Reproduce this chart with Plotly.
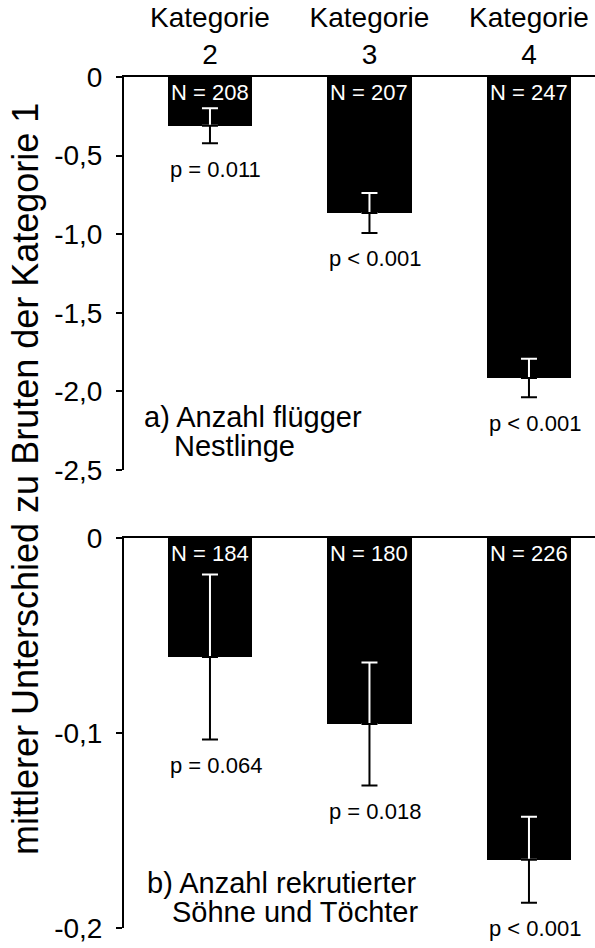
import plotly.graph_objects as go

categories = ["Kategorie<br>2", "Kategorie<br>3", "Kategorie<br>4"]

# Panel a) Anzahl flügger Nestlinge
a_mean = [-0.31, -0.865, -1.915]
a_err = [0.111, 0.127, 0.123]
a_n = ["N = 208", "N = 207", "N = 247"]
a_p = ["p = 0.011", "p < 0.001", "p < 0.001"]
a_tickvals = [0, -0.5, -1.0, -1.5, -2.0, -2.5]
a_ticktext = ["0", "-0,5", "-1,0", "-1,5", "-2,0", "-2,5"]

# Panel b) Anzahl rekrutierter Söhne und Töchter
b_mean = [-0.061, -0.0954, -0.165]
b_err = [0.0423, 0.0315, 0.022]
b_n = ["N = 184", "N = 180", "N = 226"]
b_p = ["p = 0.064", "p = 0.018", "p < 0.001"]
b_tickvals = [0, -0.1, -0.2]
b_ticktext = ["0", "-0,1", "-0,2"]

ytitle = "mittlerer Unterschied zu Bruten der Kategorie 1"
label_a = ["a) Anzahl flügger", "Nestlinge"]
label_b = ["b) Anzahl rekrutierter", "Söhne und Töchter"]

FONT = "Liberation Sans, Arial, sans-serif"
W, H = 595, 948
ML, MR, MT, MB = 124, 0, 77, 20
PW = W - ML - MR
PH = H - MT - MB

def py(pix):
    return (H - MB - pix) / PH

def px(pix):
    return (pix - ML) / PW

fig = go.Figure()

zeros = [0, 0, 0]
for means, errs, xa, ya in [(a_mean, a_err, "x", "y"), (b_mean, b_err, "x2", "y2")]:
    fig.add_trace(go.Bar(x=categories, y=means, width=0.527, xaxis=xa, yaxis=ya,
                         marker=dict(color="black", line=dict(width=0)), showlegend=False))
    # upper part of error bar (inside the bar) in white
    fig.add_trace(go.Scatter(x=categories, y=means, mode="markers", xaxis=xa, yaxis=ya,
                             marker=dict(size=1, color="rgba(0,0,0,0)"), showlegend=False,
                             error_y=dict(type="data", symmetric=False, array=errs, arrayminus=zeros,
                                          color="white", thickness=2, width=8)))
    # lower part of error bar (outside the bar) in black
    fig.add_trace(go.Scatter(x=categories, y=means, mode="markers", xaxis=xa, yaxis=ya,
                             marker=dict(size=1, color="rgba(0,0,0,0)"), showlegend=False,
                             error_y=dict(type="data", symmetric=False, array=zeros, arrayminus=errs,
                                          color="black", thickness=2, width=8)))

annotations = []
for means, errs, ns, ps, xa, ya in [(a_mean, a_err, a_n, a_p, "x", "y"), (b_mean, b_err, b_n, b_p, "x2", "y2")]:
    for c, m, e, n, p in zip(categories, means, errs, ns, ps):
        annotations.append(dict(x=c, y=0, xref=xa, yref=ya, text=n, showarrow=False,
                                yanchor="middle", yshift=-15, font=dict(size=22, color="white", family=FONT)))
        annotations.append(dict(x=c, y=m - e, xref=xa, yref=ya, text=p, showarrow=False,
                                yanchor="middle", yshift=-26, xshift=6,
                                font=dict(size=22, color="black", family=FONT)))

annotations.append(dict(x=px(25), y=py(479), xref="paper", yref="paper", text=ytitle, textangle=-90,
                        showarrow=False, xanchor="center", yanchor="middle",
                        font=dict(size=36, color="black", family=FONT)))
for txt, lx, ly in [(label_a[0], 142, 417), (label_a[1], 172, 446),
                    (label_b[0], 145, 883), (label_b[1], 170, 912)]:
    annotations.append(dict(x=px(lx), y=py(ly), xref="paper", yref="paper", text=txt, showarrow=False,
                            xanchor="left", yanchor="middle", font=dict(size=29, color="black", family=FONT)))

xcommon = dict(range=[-0.539, 2.414], side="top", showline=True, linecolor="black", linewidth=2,
               ticks="", showgrid=False, zeroline=False, type="category", automargin=False)
ycommon = dict(showline=True, linecolor="black", linewidth=2, ticks="outside", ticklen=6, tickwidth=2,
               tickcolor="black", showgrid=False, zeroline=False, tickfont=dict(size=28, color="black", family=FONT),
               ticklabelstandoff=8, automargin=False)

top_bottom = py(470)
bot_top = py(538)

fig.update_layout(
    width=W, height=H,
    margin=dict(l=ML, r=MR, t=MT, b=MB, autoexpand=False),
    paper_bgcolor="white", plot_bgcolor="white",
    font=dict(family=FONT, color="black"),
    bargap=0,
    hovermode=False,
    xaxis=dict(**xcommon, anchor="y", domain=[0, 1], tickfont=dict(size=28, color="black", family=FONT),
               ticklabelstandoff=0),
    yaxis=dict(**ycommon, domain=[top_bottom, 1], range=[-2.5, 0], tickvals=a_tickvals, ticktext=a_ticktext,
               anchor="x"),
    xaxis2=dict(**xcommon, anchor="y2", domain=[0, 1], showticklabels=False),
    yaxis2=dict(**ycommon, domain=[0, bot_top], range=[-0.2, 0], tickvals=b_tickvals, ticktext=b_ticktext,
                anchor="x2"),
    annotations=annotations,
)

fig.write_html("out.html",
               config={"displayModeBar": False},
               post_script="document.body.style.margin='0px';document.body.style.overflow='hidden';")
